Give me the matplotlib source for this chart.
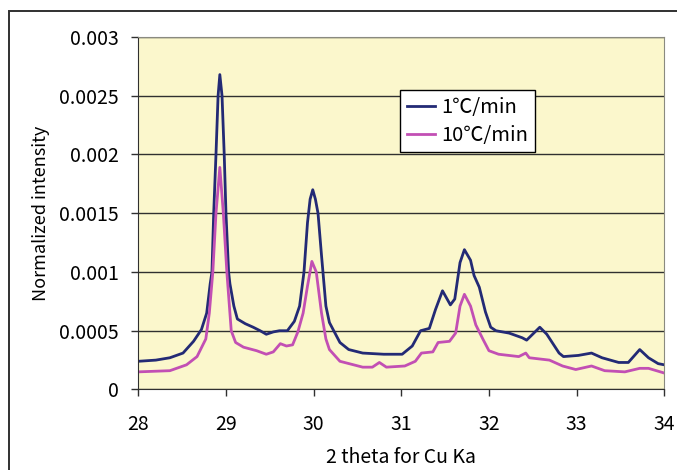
import matplotlib.pyplot as plt
from matplotlib.patches import Rectangle

plt.rcParams['font.family'] = ['Noto Sans CJK JP', 'DejaVu Sans']

# 1 C/min curve
theta_slow = [28.0, 28.2, 28.36, 28.51, 28.63, 28.72, 28.78, 28.82, 28.84, 28.86, 28.886,
              28.91, 28.93, 28.955, 28.98, 29.0, 29.03, 29.045, 29.09, 29.13, 29.22,
              29.31, 29.39, 29.46, 29.54, 29.61, 29.7, 29.78, 29.84, 29.89, 29.93, 29.96,
              29.99, 30.02, 30.05, 30.09, 30.14, 30.18, 30.3, 30.4, 30.56, 30.8, 31.01,
              31.125, 31.22, 31.32, 31.39, 31.47, 31.56, 31.61, 31.67, 31.72, 31.79,
              31.83, 31.89, 31.96, 32.02, 32.08, 32.23, 32.38, 32.43, 32.58, 32.66, 32.8,
              32.85, 33.02, 33.17, 33.29, 33.48, 33.59, 33.72, 33.82, 33.93, 34.0]
int_slow = [0.00024, 0.00025, 0.00027, 0.00031, 0.00041, 0.00051, 0.00065, 0.0009,
            0.001, 0.0015, 0.002, 0.0025, 0.00268, 0.0025, 0.002, 0.0015, 0.001, 0.0009,
            0.00071, 0.0006, 0.00056, 0.00053, 0.0005, 0.00047, 0.00049, 0.0005, 0.0005,
            0.00058, 0.00071, 0.001, 0.00142, 0.00162, 0.0017, 0.00162, 0.0015, 0.00114,
            0.00071, 0.00057, 0.0004, 0.00034, 0.00031, 0.0003, 0.0003, 0.00037, 0.0005,
            0.00052, 0.00068, 0.00084, 0.00072, 0.00077, 0.00108, 0.00119, 0.0011,
            0.00097, 0.00087, 0.00066, 0.00053, 0.0005, 0.00048, 0.00044, 0.00042,
            0.00053, 0.00047, 0.00031, 0.00028, 0.00029, 0.00031, 0.00027, 0.00023,
            0.00023, 0.00034, 0.00027, 0.00022, 0.00021]

# 10 C/min curve
theta_fast = [28.0, 28.36, 28.55, 28.67, 28.77, 28.81, 28.85, 28.886, 28.93, 28.97, 29.01,
              29.06, 29.11, 29.2, 29.35, 29.46, 29.54, 29.62, 29.69, 29.76, 29.82, 29.88,
              29.93, 29.98, 30.03, 30.09, 30.14, 30.18, 30.3, 30.56, 30.67, 30.75, 30.83,
              31.04, 31.16, 31.23, 31.36, 31.42, 31.55, 31.62, 31.67, 31.72, 31.79, 31.85,
              31.93, 32.0, 32.11, 32.34, 32.42, 32.46, 32.69, 32.84, 32.99, 33.17, 33.32,
              33.55, 33.72, 33.82, 34.0]
int_fast = [0.00015, 0.00016, 0.00021, 0.00028, 0.00043, 0.00065, 0.001, 0.0015,
            0.00189, 0.0015, 0.001, 0.0005, 0.0004, 0.00036, 0.00033, 0.0003, 0.00032,
            0.00039, 0.00037, 0.00038, 0.00049, 0.00065, 0.00088, 0.00109, 0.001,
            0.00065, 0.00043, 0.00034, 0.00024, 0.00019, 0.00019, 0.00023, 0.00019,
            0.0002, 0.00024, 0.00031, 0.00032, 0.0004, 0.00041, 0.00048, 0.00071,
            0.00081, 0.00071, 0.00055, 0.00043, 0.00033, 0.0003, 0.00028, 0.00031,
            0.00027, 0.00025, 0.0002, 0.00017, 0.0002, 0.00016, 0.00015, 0.00018,
            0.00018, 0.00014]

x_ticks = [28, 29, 30, 31, 32, 33, 34]
y_ticks = [0, 0.0005, 0.001, 0.0015, 0.002, 0.0025, 0.003]
y_labels = ['0', '0.0005', '0.001', '0.0015', '0.002', '0.0025', '0.003']

fig = plt.figure(figsize=(6.77, 4.70), dpi=100)
ax = fig.add_axes([0.2043, 0.1713, 0.7769, 0.75])

# outer chart frame (right and bottom edges fall outside the picture)
fig.add_artist(Rectangle((9.3 / 677, -0.1), 1.2, 1 - 11 / 470 + 0.1,
                         transform=fig.transFigure, fill=False,
                         edgecolor='#303030', linewidth=1.4))

ax.set_facecolor('#fbf7cc')
ax.plot(theta_slow, int_slow, color='#232a75', linewidth=2, label='1℃/min')
ax.plot(theta_fast, int_fast, color='#c24fb4', linewidth=2, label='10℃/min')

ax.set_xlim(28, 34)
ax.set_ylim(0, 0.003)
ax.set_xticks(x_ticks)
ax.set_yticks(y_ticks)
ax.set_yticklabels(y_labels)
ax.tick_params(axis='both', direction='out', length=5, width=1, labelsize=14,
               color='#303030')
ax.tick_params(axis='x', pad=13)
ax.tick_params(axis='y', pad=9)
ax.grid(True, axis='y', color='#303030', linewidth=1)
ax.set_axisbelow(True)

ax.spines['top'].set_color('#8a8a80')
ax.spines['right'].set_color('#8a8a80')
ax.spines['left'].set_color('#303030')
ax.spines['bottom'].set_color('#303030')

ax.set_xlabel('2 theta for Cu Ka', fontsize=14)
ax.set_ylabel('Normalized intensity', fontsize=13)
ax.xaxis.set_label_coords(0.5, -0.162)
ax.yaxis.set_label_coords(-0.168, 0.5)

leg = ax.legend(loc='upper left', bbox_to_anchor=(0.4975, 0.8496), fontsize=14.5,
                fancybox=False, framealpha=1, edgecolor='black', handlelength=1.4,
                borderpad=0.33, borderaxespad=0, labelspacing=0.35,
                handletextpad=0.3)
leg.get_frame().set_linewidth(1)

fig.savefig('out.png', dpi=100)
